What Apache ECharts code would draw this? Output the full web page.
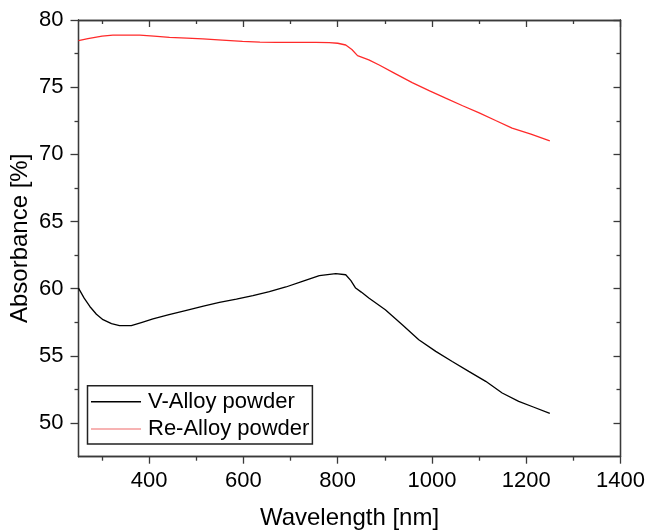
<!DOCTYPE html>
<html>
<head>
<meta charset="utf-8">
<script src="https://cdn.jsdelivr.net/npm/echarts@6/dist/echarts.min.js"></script>
<style>html,body{margin:0;padding:0;background:#fff}#c{width:646px;height:532px}</style>
</head>
<body>
<div id="c"></div>
<script>
// Wavelength (nm) and absorbance (%)
var vWavelength = [250,262,274,288,302,320,337,362,385,408,440,479,515,549,585,620,655,690,725,761,796,817,828,838,850,866,901,937,972,1008,1043,1078,1114,1149,1184,1215,1250];
var vAbsorbance = [60.05,59.3,58.68,58.1,57.7,57.4,57.25,57.25,57.5,57.75,58.05,58.39,58.7,58.98,59.22,59.48,59.78,60.13,60.55,60.97,61.12,61.04,60.6,60.05,59.75,59.31,58.44,57.32,56.21,55.34,54.59,53.85,53.11,52.24,51.62,51.2,50.72];
var reWavelength = [250,270,300,323,350,380,410,443,480,514,555,598,635,669,710,754,782,800,817,830,842,866,888,920,958,995,1029,1065,1099,1135,1170,1210,1250];
var reAbsorbance = [78.46,78.62,78.8,78.88,78.88,78.88,78.8,78.71,78.65,78.59,78.5,78.41,78.36,78.34,78.33,78.34,78.31,78.27,78.14,77.8,77.35,77.03,76.65,76.05,75.34,74.72,74.18,73.62,73.11,72.52,71.95,71.5,71.0];
var seriesNames = ['V-Alloy powder','Re-Alloy powder'];
var xMajor = [400,600,800,1000,1200,1400];
var xMinor = [300,500,700,900,1100,1300];
var yMajor = [50,55,60,65,70,75,80];
var yMinor = [52.5,57.5,62.5,67.5,72.5,77.5];

function zip(a,b){var r=[];for(var i=0;i<a.length;i++)r.push([a[i],b[i]]);return r;}
var FONT = 'Liberation Sans, Arial, sans-serif';
var AX = '#3a3a3a';
var XMIN=250, XMAX=1400, YMIN=47.5, YMAX=80;
function plain(v){return String(v);}

function xAx(pos, ticks, len, inside, labels, name){
  return {
    type:'value', position:pos, min:XMIN, max:XMAX,
    axisLine:{show:true, onZero:false, lineStyle:{color:AX, width:1.3}},
    axisTick:{show:true, inside:inside, length:len, customValues:ticks, lineStyle:{color:AX, width:1.3}},
    axisLabel:{show:labels, customValues:ticks, formatter:plain, color:'#000', fontSize:22, fontFamily:FONT, margin:13},
    splitLine:{show:false},
    name:name||'', nameLocation:'middle', nameGap:50, nameMoveOverlap:false,
    nameTextStyle:{color:'#000', fontSize:24, fontFamily:FONT}
  };
}
function yAx(pos, ticks, len, inside, labels, name){
  return {
    type:'value', position:pos, min:YMIN, max:YMAX,
    axisLine:{show:true, onZero:false, lineStyle:{color:AX, width:1.3}},
    axisTick:{show:true, inside:inside, length:len, customValues:ticks, lineStyle:{color:AX, width:1.3}},
    axisLabel:{show:labels, customValues:ticks, formatter:plain, color:'#000', fontSize:22, fontFamily:FONT, margin:15},
    splitLine:{show:false},
    name:name||'', nameLocation:'middle', nameGap:46, nameRotate:90, nameMoveOverlap:false,
    nameTextStyle:{color:'#000', fontSize:24, fontFamily:FONT}
  };
}

var chart = echarts.init(document.getElementById('c'));
chart.setOption({
  animation:false,
  backgroundColor:'#fff',
  grid:{left:78.5, top:20, right:25.5, bottom:75.3, containLabel:false, outerBoundsMode:'none'},
  xAxis:[
    xAx('bottom', xMajor, 7, false, true, 'Wavelength [nm]'),
    xAx('bottom', xMinor, 4, false, false),
    xAx('top', xMajor, 7, true, false),
    xAx('top', xMinor, 4, true, false)
  ],
  yAxis:[
    yAx('left', yMajor, 8, false, true, 'Absorbance [%]'),
    yAx('left', yMinor, 4, false, false),
    yAx('right', yMajor, 7, true, false),
    yAx('right', yMinor, 4, true, false)
  ],
  legend:{
    orient:'vertical', left:87.5, top:385.7,
    padding:[5,3,4,3.5], itemGap:5.3, itemWidth:50, itemHeight:1.6,
    borderColor:'#222', borderWidth:1.5, backgroundColor:'#fff',
    textStyle:{color:'#000', fontSize:22, fontFamily:FONT, padding:[0,0,0,2]},
    data:[{name:seriesNames[0], icon:'rect'},{name:seriesNames[1], icon:'rect'}]
  },
  series:[
    {name:seriesNames[0], type:'line', xAxisIndex:0, yAxisIndex:0, showSymbol:false, symbol:'none',
     data:zip(vWavelength, vAbsorbance), lineStyle:{color:'#000', width:1.3}, itemStyle:{color:'#000'}},
    {name:seriesNames[1], type:'line', xAxisIndex:0, yAxisIndex:0, showSymbol:false, symbol:'none',
     data:zip(reWavelength, reAbsorbance), lineStyle:{color:'#ff2a2a', width:1.3}, itemStyle:{color:'#f49a9a'}}
  ]
});
</script>
</body>
</html>
